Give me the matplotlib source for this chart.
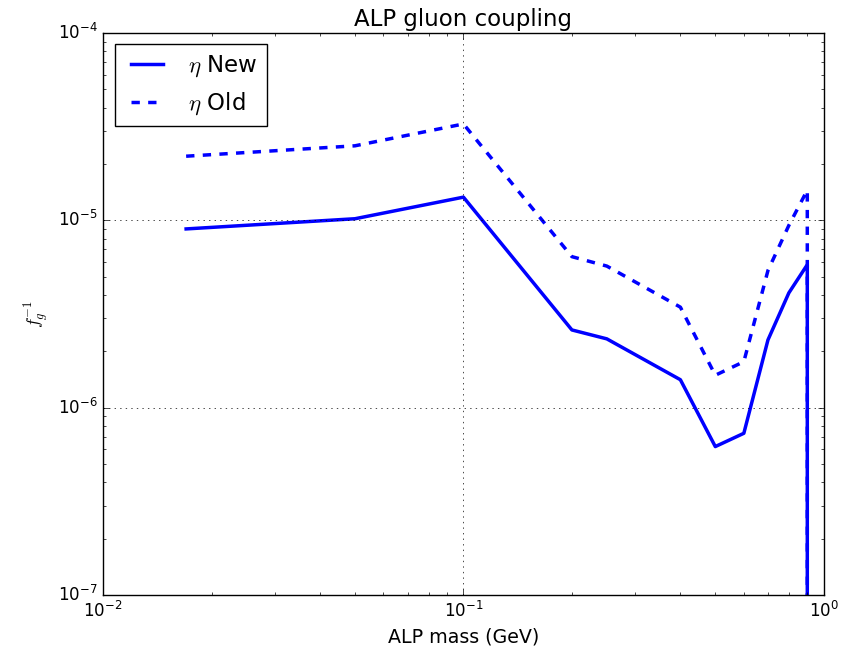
import matplotlib
matplotlib.use('Agg')
import matplotlib.pyplot as plt

# ALP mass (GeV)
mass = [0.017, 0.05, 0.1, 0.2, 0.25, 0.4, 0.5, 0.6, 0.7, 0.8, 0.9, 0.9]
# 1/f_g limits
eta_new = [9.0e-6, 1.02e-5, 1.33e-5, 2.6e-6, 2.33e-6, 1.41e-6, 6.2e-7, 7.3e-7, 2.3e-6, 4.1e-6, 5.8e-6, 1e-10]
eta_old = [2.2e-5, 2.5e-5, 3.27e-5, 6.4e-6, 5.7e-6, 3.44e-6, 1.49e-6, 1.76e-6, 5.4e-6, 9.4e-6, 1.45e-5, 1e-10]

plt.style.use('classic')
fig = plt.figure(figsize=(8.59, 6.54), dpi=100)
ax = fig.add_axes([0.12, 0.0902, 0.839, 0.8593])

ax.plot(mass, eta_new, 'b-', lw=2.5, label=r'$\eta$ New')
ax.plot(mass, eta_old, 'b--', lw=2.5, label=r'$\eta$ Old')

ax.set_xscale('log')
ax.set_yscale('log')
ax.set_xlim(1e-2, 1)
ax.set_ylim(1e-7, 1e-4)
ax.grid(True, which='major')
ax.set_title('ALP gluon coupling', fontsize=16.5)
ax.set_xlabel('ALP mass (GeV)', fontsize=13.7)
ax.set_ylabel(r'$f_g^{-1}$', fontsize=13)
ax.legend(loc='upper left', fontsize=16.5)

fig.savefig('out.png', dpi=100)
